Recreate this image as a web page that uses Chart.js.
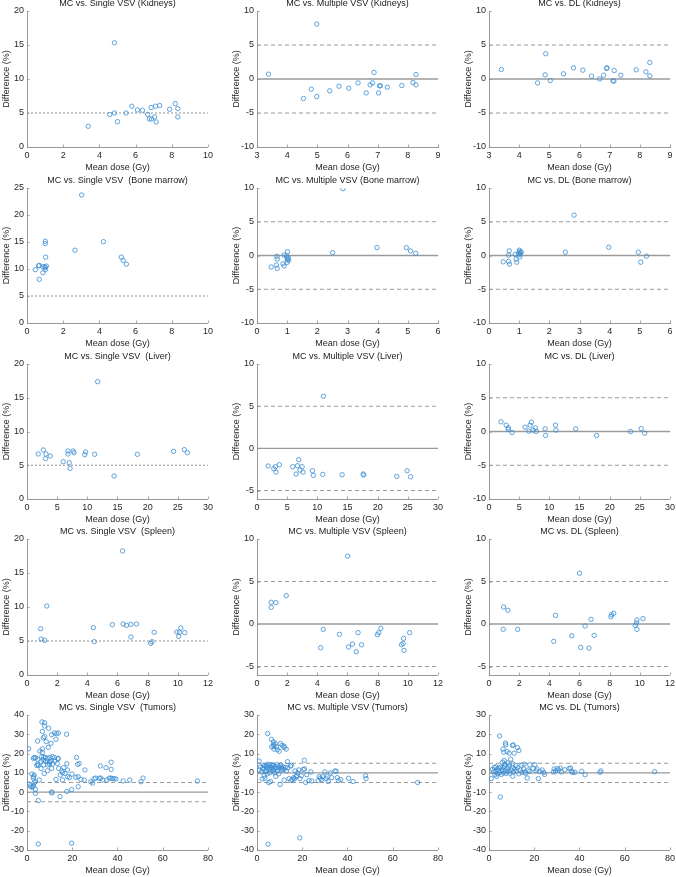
<!DOCTYPE html>
<html>
<head>
<meta charset="utf-8">
<script src="https://cdn.jsdelivr.net/npm/chart.js@4.4.1/dist/chart.umd.min.js"></script>
<style>
  html, body { margin: 0; padding: 0; background: #fff; }
  #wrap { position: relative; width: 676px; height: 877px; overflow: hidden; background: #fff; }
  #wrap canvas { position: absolute; }
</style>
</head>
<body>
<div id="wrap"></div>
<script>
// [mean dose (Gy), difference (%)]
const kidneysSingle = [[3.38,3.05],[4.83,15.33],[4.57,4.77],[4.83,5.0],[5.0,3.73],[5.48,5.0],[5.79,6.0],[6.1,5.45],[6.38,5.4],[6.67,4.8],[6.86,5.8],[6.76,4.13],[6.88,4.13],[7.1,6.0],[7.05,4.42],[7.14,3.68],[7.33,6.1],[7.88,5.55],[8.19,6.39],[8.33,5.65],[8.33,4.42]];
const kidneysMulti = [[3.38,0.71],[4.98,8.08],[4.54,-2.87],[4.8,-1.5],[4.98,-2.58],[5.41,-1.74],[5.72,-1.06],[6.04,-1.35],[6.35,-0.57],[6.62,-2.04],[6.75,-0.86],[6.83,-0.57],[6.88,0.96],[7.03,-2.04],[7.06,-1.0],[7.09,-1.0],[7.32,-1.2],[7.8,-0.96],[8.17,-0.52],[8.27,0.66],[8.27,-0.86]];
const kidneysDL = [[3.41,1.4],[4.61,-0.57],[4.86,0.61],[4.88,3.71],[5.03,-0.22],[5.47,0.76],[5.8,1.65],[6.11,1.3],[6.4,0.42],[6.67,0.02],[6.8,0.56],[6.9,1.55],[6.91,1.64],[7.11,-0.27],[7.15,1.25],[7.14,-0.32],[7.37,0.56],[7.88,1.35],[8.2,1.06],[8.33,2.43],[8.33,0.47]];

const marrowSingle = [[0.46,9.87],[0.64,10.6],[0.68,10.66],[0.68,8.09],[0.88,9.31],[0.88,10.42],[0.98,10.42],[1.01,9.87],[1.01,10.23],[1.07,10.54],[1.01,15.13],[1.01,14.7],[1.03,12.19],[3.02,23.7],[2.65,13.48],[4.22,15.07],[5.21,12.19],[5.32,11.58],[5.49,10.9]];
const marrowMulti = [[0.47,-1.71],[0.66,-0.12],[0.67,-0.52],[0.64,-1.41],[0.67,-1.91],[0.86,-1.22],[0.9,0.07],[0.9,-1.56],[0.98,-0.07],[1.0,-0.42],[1.0,-1.02],[1.01,0.57],[1.01,-0.67],[1.04,-0.32],[1.05,-0.67],[2.85,9.9],[2.51,0.42],[3.98,1.17],[4.95,1.17],[5.09,0.67],[5.26,0.32]];
const marrowDL = [[0.47,-0.94],[0.67,0.69],[0.65,0.05],[0.65,-0.89],[0.68,-1.28],[0.87,0.15],[0.9,-0.54],[0.92,-0.99],[0.98,0.3],[1.01,0.79],[1.01,0.59],[1.02,-0.2],[1.02,0.15],[1.04,0.4],[1.07,0.49],[2.53,0.49],[2.82,5.98],[3.97,1.23],[4.95,0.49],[5.03,-0.99],[5.22,-0.1]];

const liverSingle = [[1.86,6.67],[2.71,7.26],[3.14,6.67],[3.07,5.98],[3.86,6.37],[6.0,5.53],[6.79,6.67],[6.79,7.11],[7.0,5.38],[7.14,4.54],[7.64,7.11],[7.79,6.86],[9.57,6.57],[9.71,6.96],[11.21,6.62],[11.71,17.38],[14.43,3.41],[18.29,6.62],[24.29,7.06],[26.07,7.31],[26.57,6.86]];
const liverMulti = [[1.85,-2.09],[2.78,-2.41],[3.06,-2.17],[3.14,-2.81],[3.71,-1.94],[5.92,-2.17],[6.49,-3.04],[6.7,-2.06],[6.91,-1.34],[7.13,-2.57],[7.48,-2.17],[7.63,-2.81],[9.19,-2.65],[9.34,-3.2],[10.9,-3.08],[11.0,6.17],[14.11,-3.12],[17.6,-3.04],[17.68,-3.16],[23.16,-3.32],[24.88,-2.65],[25.45,-3.36]];
const liverDL = [[1.99,1.43],[2.84,0.94],[3.2,0.54],[3.2,0.3],[3.84,-0.15],[5.97,0.64],[6.61,0.05],[6.82,0.94],[7.04,1.38],[7.32,0.2],[7.68,0.54],[7.82,0.0],[9.31,0.4],[9.38,-0.59],[11.02,0.94],[11.09,0.2],[14.36,0.4],[17.84,-0.59],[23.45,0.0],[25.23,0.44],[25.8,-0.25]];

const spleenSingle = [[0.91,6.81],[0.94,5.29],[1.17,5.1],[1.31,10.15],[4.4,6.96],[4.46,4.9],[5.66,7.4],[6.34,18.24],[6.37,7.5],[6.6,7.3],[6.89,7.45],[6.89,5.59],[7.26,7.5],[8.2,4.66],[8.29,4.9],[8.43,6.27],[9.94,6.32],[10.06,5.69],[10.11,6.27],[10.2,6.91],[10.46,6.23]];
const spleenMulti = [[0.94,1.96],[0.94,2.55],[1.25,2.51],[1.94,3.34],[4.22,-2.79],[4.39,-0.63],[5.47,-1.22],[6.01,7.98],[6.07,-2.71],[6.33,-2.36],[6.58,-3.26],[6.7,-1.02],[6.93,-2.44],[7.98,-1.26],[8.07,-1.02],[8.21,-0.51],[9.58,-2.44],[9.69,-2.28],[9.72,-1.69],[9.75,-3.1],[10.12,-1.02]];
const spleenDL = [[0.97,2.0],[0.94,-0.63],[1.25,1.61],[1.9,-0.63],[4.29,-2.04],[4.41,1.02],[5.49,-1.38],[6.0,5.97],[6.08,-2.75],[6.37,-0.24],[6.63,-2.83],[6.77,0.55],[6.97,-1.34],[8.08,0.86],[8.13,1.1],[8.27,1.26],[9.7,-0.16],[9.78,0.12],[9.81,0.47],[9.81,-0.63],[10.21,0.63]];

const tumorSingle = [[6.6,36.4],[7.8,36.0],[6.8,31.5],[7.8,34.3],[9.6,33.1],[7.8,28.8],[7.2,28.2],[10.9,29.8],[12.1,30.7],[13.1,30.3],[13.8,30.7],[12.8,27.4],[17.5,30.0],[8.5,26.2],[4.7,26.5],[10.6,25.3],[9.4,23.2],[6.8,22.4],[0.7,22.5],[5.7,21.3],[6.8,20.6],
  [2.8,17.5],[3.2,17.9],[3.8,17.9],[4.7,17.0],[6.5,18.4],[7.4,18.2],[8.1,18.0],[9.1,17.5],[10.1,18.0],[11.3,18.4],[12.1,17.9],[13.8,17.5],[21.9,18.0],[4.7,14.6],[4.3,13.9],[5.0,13.9],[6.2,15.8],[7.1,16.7],[8.1,16.1],[9.1,16.0],[10.1,15.6],[10.6,16.0],[7.4,14.1],[9.1,14.1],[9.9,14.6],[11.3,14.6],[12.4,16.1],[13.4,14.9],[13.7,17.3],[6.2,12.2],[9.1,11.1],[10.9,12.3],[14.0,12.3],[15.4,11.1],[16.2,12.7],[17.6,14.7],[17.9,11.5],[22.4,14.4],[23.1,14.9],[25.6,11.5],[32.4,13.6],[34.9,12.7],[37.2,15.5],[37.2,11.8],
  [2.8,7.2],[2.9,8.0],[2.2,9.4],[3.2,8.9],[14.7,8.9],[15.7,10.1],[16.8,9.7],[7.6,9.7],[5.4,6.3],[12.8,6.6],[15.7,6.3],[17.9,8.0],[18.7,7.5],[19.9,9.4],[21.6,7.7],[22.6,8.0],[23.8,6.6],[25.3,6.3],[28.2,5.4],[29.0,4.7],[29.7,7.0],[30.4,7.3],[31.9,7.2],[32.6,7.3],[33.4,6.3],[35.3,6.3],[36.3,7.2],[37.1,7.3],[37.8,7.0],[38.5,7.0],[39.3,6.8],[42.5,5.8],[45.4,6.3],[50.4,5.4],[51.3,7.3],[75.3,5.8],
  [1.0,4.2],[1.5,3.2],[2.1,2.5],[2.5,2.8],[3.2,4.9],[3.7,5.4],[2.8,3.2],[3.7,1.5],[3.7,-0.6],[10.9,0.1],[11.0,-0.4],[14.6,-2.3],[17.6,0.4],[19.7,1.3],[22.6,2.8],[5.0,-4.4],[5.0,-26.9],[19.7,-26.5]];
const tumorMulti = [[4.7,20.4],[6.4,17.4],[7.2,16.1],[7.4,14.7],[7.4,13.8],[8.1,15.2],[6.5,13.5],[7.5,12.3],[8.6,13.5],[9.8,11.2],[10.4,15.2],[11.1,14.3],[12.0,13.8],[12.9,12.3],[12.0,13.1],[9.0,12.0],
  [0.9,6.1],[13.5,5.8],[20.9,6.5],
  [1.0,1.5],[1.5,3.0],[2.0,0.5],[2.3,-3.2],[2.8,4.0],[3.0,2.0],[3.2,-1.5],[3.5,-2.8],[3.6,0.8],[4.0,3.5],[4.2,1.0],[4.5,-0.5],[4.8,2.8],[5.0,4.5],[5.2,-5.0],[5.5,1.8],[5.8,3.0],[6.0,-4.5],[6.2,4.2],[6.5,2.5],[6.8,3.8],[7.0,1.0],[7.3,4.0],[7.6,2.0],[8.0,3.2],[8.3,-1.8],[8.6,2.5],[9.0,1.0],[9.4,3.5],[9.8,2.5],[10.2,-6.0],[10.5,4.2],[10.8,1.5],[11.2,2.0],[11.5,3.0],[12.0,-3.8],[12.5,2.8],[13.0,1.0],[14.2,-3.0],[14.8,3.5],[15.0,-4.0],[15.2,4.0],[15.6,-3.5],[16.2,-2.5],[16.8,1.0],[17.2,-2.0],[17.6,-1.5],[18.5,1.5],[19.0,-3.0],[19.6,-1.5],[20.4,1.8],[21.0,2.0],[21.5,-5.0],[22.0,-1.0],[23.0,-4.0],[23.8,0.5],[24.2,-4.2],[27.0,-4.0],[27.5,-2.0],[28.0,-2.8],[28.6,-3.5],[29.0,-2.0],[30.0,0.5],[30.5,-3.0],[31.0,-2.0],[31.5,-4.5],[32.5,0.0],[33.0,-2.5],[34.5,1.0],[35.0,0.8],[35.5,-2.5],[36.0,-4.0],[37.0,-3.5],[40.5,-2.8],[42.5,-4.5],[48.0,-1.5],[48.2,-3.0],[71.0,-5.0],
  [2.5,2.5],[3.3,3.6],[4.4,4.0],[5.6,0.0],[6.6,1.6],[7.8,0.0],[8.8,4.2],[9.6,-0.5],[10.8,3.0],[11.8,1.8],[13.6,2.5],[16.5,-3.2],[18.0,0.0],
  [18.9,-33.7],[4.9,-37.0]];
const tumorDL = [[4.7,19.1],[7.3,15.4],[7.4,14.5],[6.2,12.3],[6.5,10.7],[8.0,11.0],[8.9,10.2],[10.4,14.2],[10.7,14.5],[11.1,10.2],[12.6,13.1],[13.2,11.6],
  [6.7,6.4],[9.6,7.1],[6.0,5.5],[7.0,4.5],[8.3,5.2],[9.0,4.0],[10.5,4.8],[12.0,3.8],[14.5,4.0],[15.5,4.5],[18.0,4.2],[20.3,4.2],
  [1.0,-3.0],[1.5,1.8],[2.0,0.5],[2.4,2.8],[2.6,-1.0],[3.0,3.2],[3.2,0.8],[3.4,-1.8],[3.6,2.0],[3.9,-0.5],[4.2,1.2],[4.5,2.5],[4.8,0.2],[5.0,-12.5],[5.2,3.0],[5.5,-0.8],[5.8,1.5],[6.2,2.8],[6.5,0.0],[6.9,3.5],[7.2,1.0],[7.6,-0.3],[8.0,2.2],[8.4,0.8],[8.8,3.0],[9.2,-0.2],[9.7,1.5],[10.2,2.6],[10.5,-1.8],[10.8,0.5],[11.4,2.0],[12.0,1.0],[12.6,2.6],[13.2,-0.5],[13.8,1.5],[14.6,0.3],[15.3,2.0],[15.8,0.4],[16.2,-0.2],[16.9,-2.7],[17.4,1.5],[18.0,0.8],[19.5,2.2],[20.8,1.0],[21.2,2.0],[21.8,-3.0],[22.5,0.6],[23.5,1.5],[24.2,0.2],[24.6,-0.8],[28.5,0.4],[28.8,2.0],[29.4,1.0],[30.2,2.2],[30.8,1.5],[31.5,2.5],[32.0,0.5],[33.5,1.6],[35.4,2.2],[36.0,2.5],[36.5,0.8],[37.0,0.2],[38.0,0.3],[41.0,0.8],[42.5,-1.0],[49.0,0.3],[49.5,1.0],[73.2,0.6]];

// reference lines
const refSingle = [{ value: 5, dash: [2, 2] }];
const refBand = [{ value: 5, dash: [4, 3] }, { value: 0 }, { value: -5, dash: [4, 3] }];

// [min, max, step]
const panels = [
  { title: "MC vs. Single VSV (Kidneys)", data: kidneysSingle, x: [0, 10, 2], y: [0, 20, 5], lines: refSingle },
  { title: "MC vs. Multiple VSV (Kidneys)", data: kidneysMulti, x: [3, 9, 1], y: [-10, 10, 5], lines: refBand },
  { title: "MC vs. DL (Kidneys)", data: kidneysDL, x: [3, 9, 1], y: [-10, 10, 5], lines: refBand },
  { title: "MC vs. Single VSV  (Bone marrow)", data: marrowSingle, x: [0, 10, 2], y: [0, 25, 5], lines: refSingle },
  { title: "MC vs. Multiple VSV (Bone marrow)", data: marrowMulti, x: [0, 6, 1], y: [-10, 10, 5], lines: refBand },
  { title: "MC vs. DL (Bone marrow)", data: marrowDL, x: [0, 6, 1], y: [-10, 10, 5], lines: refBand },
  { title: "MC vs. Single VSV  (Liver)", data: liverSingle, x: [0, 30, 5], y: [0, 20, 5], lines: refSingle },
  { title: "MC vs. Multiple VSV (Liver)", data: liverMulti, x: [0, 30, 5], y: [-6, 10, 5], lines: refBand },
  { title: "MC vs. DL (Liver)", data: liverDL, x: [0, 30, 5], y: [-10, 10, 5], lines: refBand },
  { title: "MC vs. Single VSV  (Spleen)", data: spleenSingle, x: [0, 12, 2], y: [0, 20, 5], lines: refSingle },
  { title: "MC vs. Multiple VSV (Spleen)", data: spleenMulti, x: [0, 12, 2], y: [-6, 10, 5], lines: refBand },
  { title: "MC vs. DL (Spleen)", data: spleenDL, x: [0, 12, 2], y: [-6, 10, 5], lines: refBand },
  { title: "MC vs. Single VSV  (Tumors)", data: tumorSingle, x: [0, 80, 20], y: [-30, 40, 10], lines: refBand },
  { title: "MC vs. Multiple VSV (Tumors)", data: tumorMulti, x: [0, 80, 20], y: [-40, 30, 10], lines: refBand },
  { title: "MC vs. DL (Tumors)", data: tumorDL, x: [0, 80, 20], y: [-40, 30, 10], lines: refBand },
];

// plot-area edges on the page
const colLeft = [27, 257, 489], colRight = [208, 438, 670];
const rowTop = [11, 188, 364, 539, 715], rowBottom = [147, 323, 499, 675, 850];
const AXIS_W = 30, AXIS_H = 28, PAD_TOP = 14, PAD_RIGHT = 8;

const BLUE = "#3a8dd2";
const GRAY = "#9a9a9a";

Chart.defaults.font.family = "'Liberation Sans', Arial, Helvetica, sans-serif";
Chart.defaults.font.size = 9;
Chart.defaults.color = "#262626";

// dashed / solid horizontal lines, inward tick marks and the panel title
const panelDecor = {
  id: "panelDecor",
  beforeDatasetsDraw(chart, args, opts) {
    const { ctx, chartArea: a, scales } = chart;
    ctx.save();
    opts.lines.forEach((l) => {
      const py = scales.y.getPixelForValue(l.value);
      ctx.beginPath();
      ctx.setLineDash(l.dash || []);
      ctx.strokeStyle = GRAY;
      ctx.lineWidth = l.dash ? 1.1 : 1.4;
      ctx.moveTo(a.left, py);
      ctx.lineTo(a.right, py);
      ctx.stroke();
    });
    ctx.setLineDash([]);
    ctx.strokeStyle = "#8c8c8c";
    ctx.lineWidth = 0.8;
    ctx.beginPath();
    scales.y.ticks.forEach((t) => {
      const py = Math.round(scales.y.getPixelForValue(t.value)) + 0.5;
      ctx.moveTo(a.left, py);
      ctx.lineTo(a.left + 2.5, py);
    });
    scales.x.ticks.forEach((t) => {
      const px = Math.round(scales.x.getPixelForValue(t.value)) + 0.5;
      ctx.moveTo(px, a.bottom);
      ctx.lineTo(px, a.bottom - 2.5);
    });
    ctx.stroke();
    ctx.restore();
  },
  afterDraw(chart, args, opts) {
    const { ctx, chartArea: a } = chart;
    ctx.save();
    ctx.font = "9px 'Liberation Sans', Arial, sans-serif";
    ctx.fillStyle = "#1a1a1a";
    ctx.textAlign = "center";
    ctx.textBaseline = "middle";
    ctx.fillText(opts.title, (a.left + a.right) / 2, a.top - 7);
    ctx.restore();
  },
};

// ticks on every multiple of step between min and max (so -6 is not labelled but -5 is)
function stepTicks([min, max, step]) {
  return (scale) => {
    const ticks = [];
    for (let v = Math.ceil(min / step) * step; v <= max + 1e-9; v += step) ticks.push({ value: v });
    scale.ticks = ticks;
  };
}

const wrap = document.getElementById("wrap");

panels.forEach((p, i) => {
  const r = Math.floor(i / 3), c = i % 3;
  const w = colRight[c] - colLeft[c] + AXIS_W + PAD_RIGHT;
  const h = rowBottom[r] - rowTop[r] + PAD_TOP + AXIS_H;
  const canvas = document.createElement("canvas");
  canvas.width = w;
  canvas.height = h;
  canvas.style.width = w + "px";
  canvas.style.height = h + "px";
  canvas.style.left = colLeft[c] - AXIS_W + "px";
  canvas.style.top = rowTop[r] - PAD_TOP + "px";
  wrap.appendChild(canvas);

  new Chart(canvas.getContext("2d"), {
    type: "scatter",
    data: {
      datasets: [
        {
          data: p.data.map(([x, y]) => ({ x, y })),
          pointStyle: "circle",
          pointRadius: 2.2,
          pointHoverRadius: 2.2,
          pointBorderWidth: 0.8,
          borderColor: BLUE,
          backgroundColor: "rgba(0,0,0,0)",
        },
      ],
    },
    options: {
      responsive: false,
      animation: false,
      events: [],
      layout: { padding: { top: PAD_TOP, right: PAD_RIGHT, left: 0, bottom: 0 } },
      plugins: {
        legend: { display: false },
        tooltip: { enabled: false },
        panelDecor: { lines: p.lines, title: p.title },
      },
      scales: {
        x: {
          type: "linear",
          min: p.x[0],
          max: p.x[1],
          ticks: { padding: 3, maxRotation: 0, autoSkip: false },
          grid: { display: false, drawTicks: false },
          border: { display: true, color: GRAY, width: 1 },
          title: { display: true, text: "Mean dose (Gy)", padding: { top: 0, bottom: 2 } },
          afterBuildTicks: stepTicks(p.x),
          afterFit: (s) => { s.height = AXIS_H; },
        },
        y: {
          type: "linear",
          min: p.y[0],
          max: p.y[1],
          ticks: { padding: 3, autoSkip: false },
          grid: { display: false, drawTicks: false },
          border: { display: true, color: GRAY, width: 1 },
          title: { display: true, text: "Difference (%)", padding: { top: 4, bottom: 0 } },
          afterBuildTicks: stepTicks(p.y),
          afterFit: (s) => { s.width = AXIS_W; },
        },
      },
    },
    plugins: [panelDecor],
  });
});
</script>
</body>
</html>
